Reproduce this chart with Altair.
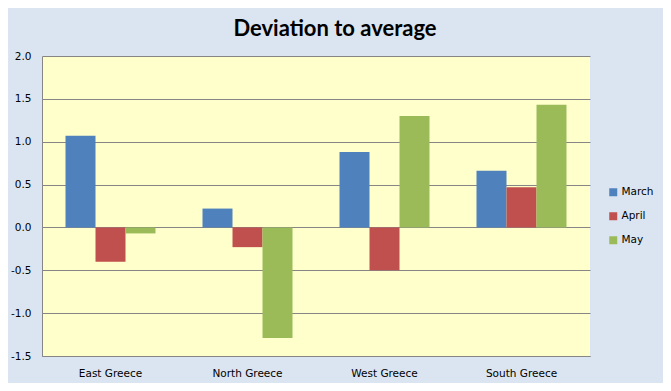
import altair as alt
import pandas as pd

regions = ["East Greece", "North Greece", "West Greece", "South Greece"]
months = ["March", "April", "May"]
march = [1.07, 0.22, 0.88, 0.66]
april = [-0.40, -0.23, -0.50, 0.47]
may = [-0.07, -1.29, 1.30, 1.43]
colors = ["#4F81BD", "#C0504D", "#9BBB59"]
y_ticks = [-1.5, -1.0, -0.5, 0.0, 0.5, 1.0, 1.5, 2.0]

rows = []
for i, r in enumerate(regions):
    for m, vals in zip(months, [march, april, may]):
        rows.append({"region": r, "month": m, "value": vals[i]})
df = pd.DataFrame(rows)

FONT = "DejaVu Sans"

bars = alt.Chart(df).mark_bar(size=30).encode(
    x=alt.X("region:N", sort=regions,
            scale=alt.Scale(paddingInner=0.343, paddingOuter=0.1715),
            axis=alt.Axis(title=None, labelAngle=0, ticks=False, domain=True,
                          domainColor="#868686", labelFont=FONT, labelFontSize=10.5,
                          labelColor="#000000", labelPadding=12, grid=False)),
    xOffset=alt.XOffset("month:N", sort=months, scale=alt.Scale(paddingInner=0, paddingOuter=0)),
    y=alt.Y("value:Q", scale=alt.Scale(domain=[-1.5, 2.0], nice=False),
            axis=alt.Axis(title=None, values=y_ticks, ticks=False, domain=True,
                          domainColor="#868686", gridColor="#868686", gridOpacity=1,
                          labelFont=FONT, labelFontSize=10.5, labelColor="#000000",
                          labelPadding=11,
                          labelExpr="(datum.value < 0 ? '-' : '') + format(abs(datum.value), '.1f')")),
    color=alt.Color("month:N", sort=months,
                    scale=alt.Scale(domain=months, range=colors),
                    legend=alt.Legend(title=None, orient="none", legendX=566, legendY=131,
                                      symbolType="square", symbolSize=64, symbolStrokeWidth=0,
                                      labelFont=FONT, labelFontSize=10.5, labelColor="#000000",
                                      rowPadding=13, labelOffset=3)),
)

chart = bars.properties(
    width=548, height=300,
    title=alt.Title("Deviation to average", font="Lato", fontSize=22, fontWeight="bold",
                    color="#000000", anchor="middle", dx=19, offset=10),
    background="#DBE5F1",
    padding={"left": 34, "top": 48, "right": 73, "bottom": 27},
    autosize=alt.AutoSizeParams(type="none"),
).configure_view(fill="#FFFFCC", stroke=None)

chart.save("out.html", embed_options={"renderer": "svg", "actions": False})
